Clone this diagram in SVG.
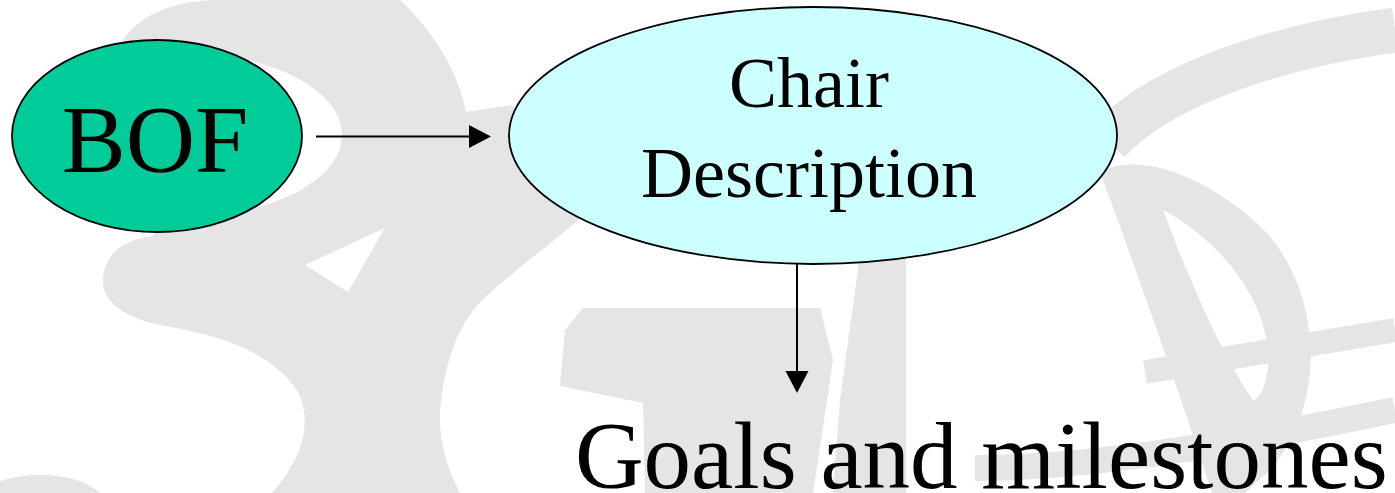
<svg xmlns="http://www.w3.org/2000/svg" width="1395" height="493" viewBox="0 0 1395 493">
<style>
.wm{fill:#e5e5e5;stroke:none}
.wms{fill:none;stroke:#e5e5e5}
.hole{fill:#ffffff;stroke:none}
.node{stroke:#000000;stroke-width:1.8}
.lbl{font-family:"Liberation Serif","Times New Roman",serif;fill:#000000;text-anchor:middle}
.edge{stroke:#000000;stroke-width:2;fill:none}
</style>
<defs>
<marker id="ah" markerUnits="userSpaceOnUse" markerWidth="22" markerHeight="24" refX="0" refY="11.5" orient="auto" viewBox="0 0 22 23">
<path d="M0,0 L22,11.5 L0,23 Z" fill="#000000"/>
</marker>
</defs>
<rect width="1395" height="493" fill="#ffffff"/>
<g id="watermark">
<path class="wm" d="M118,48 C135,15 175,0 220,0 L400,0 C432,30 458,70 466,112 L512,105 L600,200 C570,230 520,265 482,300 C458,325 445,360 440,410 C438,440 448,470 460,493 L272,493 C300,462 314,425 298,392 C275,355 225,336 165,326 C122,318 102,300 103,280 C104,255 122,240 152,236 L200,180 L150,60 Z"/>
<ellipse class="hole" cx="182" cy="135" rx="160" ry="82"/>
<polygon class="hole" points="305,265 385,228 348,292"/>
<ellipse class="wm" cx="40" cy="505" rx="65" ry="30"/>
<polygon class="wm" points="583,308 820,308 833,360 813,493 645,493 643,403 560,386 565,330"/>
<polygon class="wm" points="862,240 906,240 906,493 833,493 840,400"/>
<path class="wms" stroke-width="45" d="M1108,142 C1150,95 1250,50 1395,30"/>
<path class="wm" fill-rule="evenodd" d="M1100,172 C1140,150 1210,178 1262,228 C1322,290 1328,400 1272,468 L1245,493 L1212,493 C1182,400 1140,280 1100,172 Z M1163,210 C1213,236 1262,290 1268,350 C1270,378 1262,398 1253,400 C1225,360 1193,290 1163,210 Z"/>
<path class="wms" stroke-width="24" d="M1145,372 L1395,330"/>
<path class="wms" stroke-width="26" d="M975,468 C1100,468 1250,440 1395,410"/>
</g>
<g id="connectors">
<line class="edge" x1="316" y1="136.5" x2="469" y2="136.5" marker-end="url(#ah)"/>
<line class="edge" x1="797" y1="264" x2="797" y2="371" marker-end="url(#ah)"/>
</g>
<g id="node-bof">
<ellipse class="node" cx="157" cy="136" rx="145" ry="96" fill="#00cc99"/>
<text class="lbl" x="155" y="172" font-size="96">BOF</text>
</g>
<g id="node-chair">
<ellipse class="node" cx="813" cy="135.5" rx="304" ry="128.5" fill="#ccffff"/>
<text class="lbl" x="809" y="107" font-size="72">Chair</text>
<text class="lbl" x="809" y="197" font-size="72">Description</text>
</g>
<g id="node-goals">
<text class="lbl" x="575" y="488" font-size="95" style="text-anchor:start">Goals and milestones</text>
</g>
</svg>
